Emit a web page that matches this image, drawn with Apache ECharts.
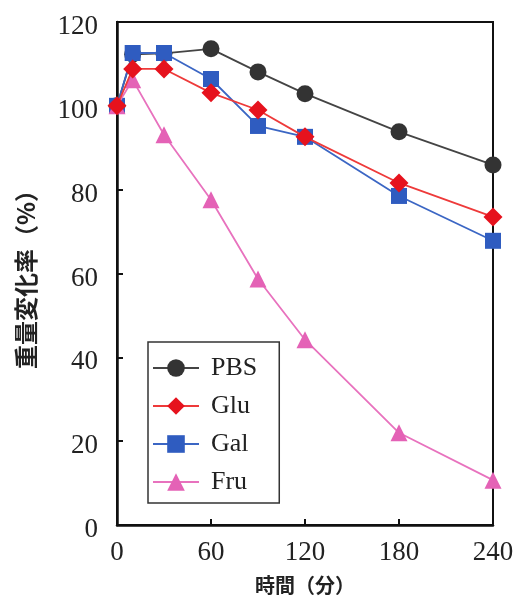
<!DOCTYPE html>
<html><head><meta charset="utf-8">
<script src="https://cdn.jsdelivr.net/npm/echarts@6/dist/echarts.min.js"></script>
<style>html,body{margin:0;padding:0;background:#fff}#c{width:513px;height:598px}</style>
</head><body><div id="c"></div>
<script>
const times = [0, 10, 30, 60, 90, 120, 180, 240];
const pbs = [100, 112.3, 112.5, 113.6, 108.1, 102.9, 93.8, 85.9];
const glu = [100, 108.8, 108.8, 103.1, 99.0, 92.6, 81.6, 73.5];
const gal = [100, 112.6, 112.6, 106.4, 95.2, 92.6, 78.5, 67.8];
const fru = [100, 106.2, 93.1, 77.6, 58.7, 44.2, 22.0, 10.7];
const xTicks = [0, 60, 120, 180, 240];
const yTicks = [0, 20, 40, 60, 80, 100, 120];

const pair = arr => times.map((t, i) => [t, arr[i]]);
const serif = 'Liberation Serif';
const chart = echarts.init(document.getElementById('c'));
function mk(name, data, color, lineColor, symbol, size, z) {
  return {
    name, type: 'line', data: pair(data), symbol, symbolSize: size, z,
    itemStyle: {color: color}, lineStyle: {color: lineColor, width: 1.8},
    emphasis: {disabled: true}, animation: false
  };
}
chart.setOption({
  animation: false,
  grid: {left: 117, top: 22, right: 20, bottom: 73, show: true, borderColor: '#111', borderWidth: 2,
    containLabel: false, outerBoundsMode: 'none'},
  legend: {
    data: ['PBS', 'Glu', 'Gal', 'Fru'], orient: 'vertical', left: 148, top: 342,
    padding: [13, 22, 8, 4], itemGap: 12, itemWidth: 46, itemHeight: 22,
    borderColor: '#333', borderWidth: 1.5, backgroundColor: '#fff',
    textStyle: {fontFamily: serif, fontSize: 26, color: '#222', padding: [0, 0, 0, 7]}
  },
  xAxis: {
    type: 'value', min: 0, max: 240, interval: 60,
    axisLine: {lineStyle: {color: '#111', width: 2.5}},
    axisTick: {inside: true, length: 6, lineStyle: {color: '#111', width: 2}},
    splitLine: {show: false},
    axisLabel: {fontFamily: serif, fontSize: 27, color: '#222', margin: 14,
      formatter: v => xTicks.includes(v) ? String(v) : ''},
    name: '時間（分）', nameLocation: 'middle', nameGap: 50,
    nameTextStyle: {fontFamily: 'Noto Sans CJK JP', fontWeight: 'bold', fontSize: 20, color: '#222'}
  },
  yAxis: {
    type: 'value', min: 0, max: 120, interval: 20,
    axisLine: {lineStyle: {color: '#111', width: 2.5}},
    axisTick: {inside: true, length: 6, lineStyle: {color: '#111', width: 2}},
    splitLine: {show: false},
    axisLabel: {color: '#222', margin: 19,
      formatter: v => yTicks.includes(v) ? '{a|' + v + '}' : '',
      rich: {a: {fontFamily: serif, fontSize: 27, color: '#222', padding: [10, 0, 0, 0]}}},
    name: '重量変化率（%）', nameLocation: 'middle', nameGap: 79, nameRotate: 90,
    nameTextStyle: {fontFamily: 'Noto Sans CJK JP', fontWeight: 'bold', fontSize: 24, color: '#222'}
  },
  series: [
    mk('PBS', pbs, '#333', '#444', 'circle', 17, 2),
    mk('Gal', gal, '#2f5cc0', '#3b66c4', 'rect', 16, 3),
    mk('Fru', fru, '#e462b6', '#e872be', 'triangle', 17, 4),
    mk('Glu', glu, '#e6121d', '#ee3a3a', 'diamond', 19, 5)
  ]
});
</script></body></html>
